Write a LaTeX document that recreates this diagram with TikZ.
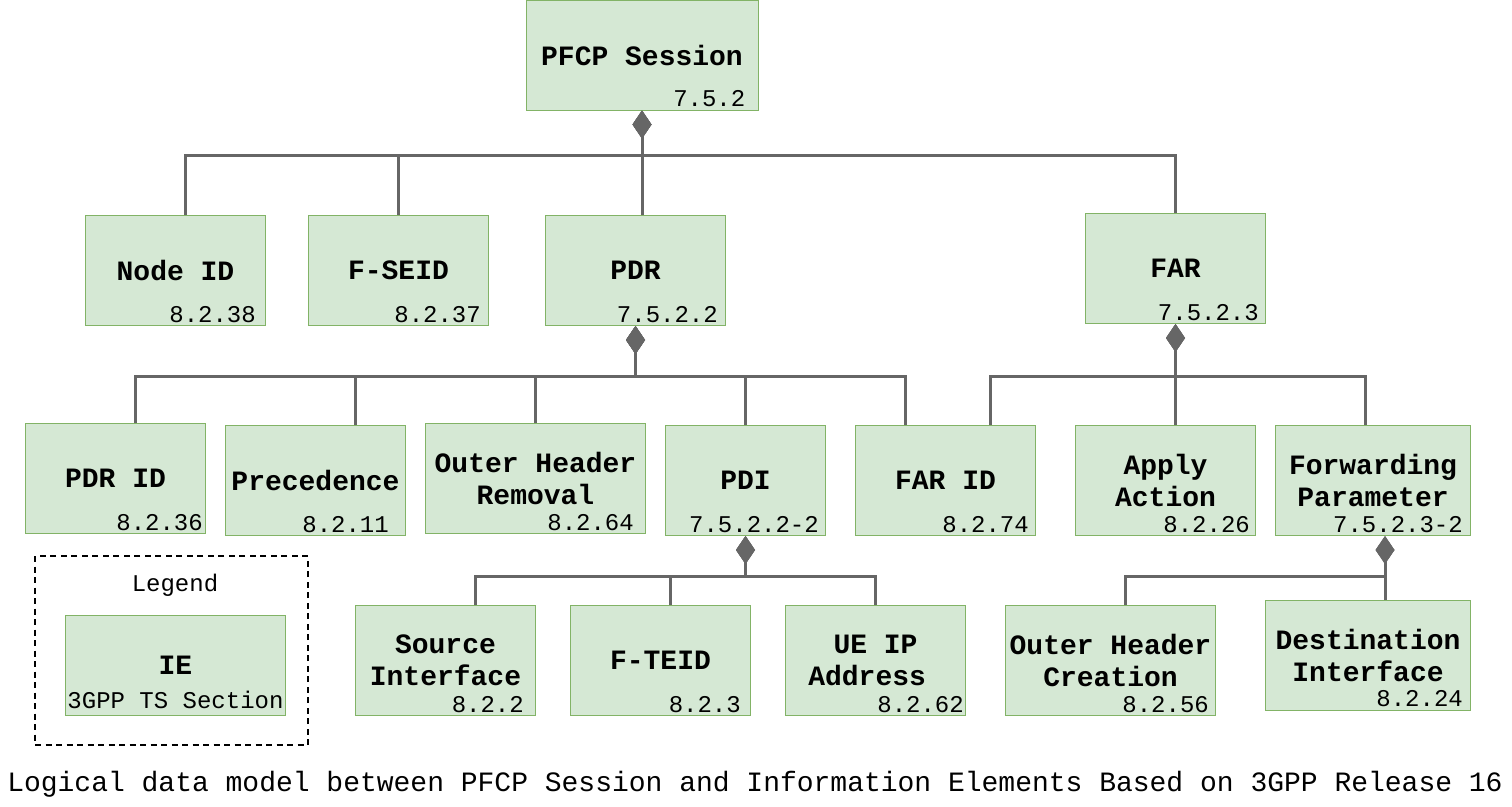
\documentclass[tikz,border=0pt]{standalone}
\usepackage{fontspec}
\setmainfont{Liberation Mono}
\usepackage{tikz}
\usetikzlibrary{arrows.meta}
\definecolor{iefill}{HTML}{D5E8D4}
\definecolor{iedraw}{HTML}{82B366}
\definecolor{linkgray}{HTML}{666666}

\begin{document}
\begin{tikzpicture}[x=1pt,y=-1pt]
    % `ie' is used for every information element box.
    % `secnum' is the 3GPP TS section number in the lower right corner.
    % `compose' is used for the connectors (diamond at the parent).
    \tikzstyle{ie} = [draw=iedraw,fill=iefill,line width=1pt,minimum width=180pt,minimum height=110pt,inner sep=0pt,align=center,font=\fontsize{28}{32.5}\selectfont\bfseries]
    \tikzstyle{secnum} = [anchor=base east,inner sep=0pt,font=\fontsize{24}{28}\selectfont]
    \tikzstyle{compose} = [draw=linkgray,line width=3pt,{Diamond[length=28pt,width=19pt]}-]
    \useasboundingbox (0,0) rectangle (1512,806);
    %
    % Top level.
    \node[ie,minimum width=232pt] (session) at (642,55) {PFCP Session};
    \node[secnum] at ([xshift=-13pt,yshift=4pt]session.south east) {7.5.2};
    %
    \node[ie] (nodeid) at (175.5,270.5) {Node ID};
    \node[secnum] at ([xshift=-10pt,yshift=4pt]nodeid.south east) {8.2.38};
    \node[ie] (fseid) at (398.5,270.5) {F-SEID};
    \node[secnum] at ([xshift=-8pt,yshift=4pt]fseid.south east) {8.2.37};
    \node[ie] (pdr) at (635.5,270.5) {PDR};
    \node[secnum] at ([xshift=-8pt,yshift=4pt]pdr.south east) {7.5.2.2};
    \node[ie] (far) at (1175.5,268.5) {FAR};
    \node[secnum] at ([xshift=-7pt,yshift=4pt]far.south east) {7.5.2.3};
    %
    % Second level.
    \node[ie] (pdrid) at (115.5,478.5) {PDR ID};
    \node[secnum] at ([xshift=-3pt,yshift=4pt]pdrid.south east) {8.2.36};
    \node[ie] (prec) at (315.5,480.5) {Precedence};
    \node[secnum] at ([xshift=-17pt,yshift=4pt]prec.south east) {8.2.11};
    \node[ie,minimum width=220pt] (ohr) at (535.5,478.5) {Outer Header\\Removal};
    \node[secnum] at ([xshift=-12pt,yshift=4pt]ohr.south east) {8.2.64};
    \node[ie,minimum width=160pt] (pdi) at (745.5,480.5) {PDI};
    \node[secnum] at ([xshift=-7pt,yshift=4pt]pdi.south east) {7.5.2.2-2};
    \node[ie] (farid) at (945.5,480.5) {FAR ID};
    \node[secnum] at ([xshift=-7pt,yshift=4pt]farid.south east) {8.2.74};
    \node[ie] (apply) at (1165.5,480.5) {Apply\\Action};
    \node[secnum] at ([xshift=-6pt,yshift=4pt]apply.south east) {8.2.26};
    \node[ie,minimum width=195pt] (fwd) at (1373,480.5) {Forwarding\\Parameter};
    \node[secnum] at ([xshift=-8pt,yshift=4pt]fwd.south east) {7.5.2.3-2};
    %
    % Third level.
    \node[ie] (srcif) at (445.5,660.5) {Source\\Interface};
    \node[secnum] at ([xshift=-12pt,yshift=4pt]srcif.south east) {8.2.2};
    \node[ie] (fteid) at (660.5,660.5) {F-TEID};
    \node[secnum] at ([xshift=-10pt,yshift=4pt]fteid.south east) {8.2.3};
    \node[ie] (ueip) at (875.5,660.5) {UE IP\\Address\phantom{x}};
    \node[secnum] at ([xshift=-2pt,yshift=4pt]ueip.south east) {8.2.62};
    \node[ie,minimum width=210pt] (ohc) at (1110.5,660.5) {Outer Header\\Creation};
    \node[secnum] at ([xshift=-7pt,yshift=4pt]ohc.south east) {8.2.56};
    \node[ie,minimum width=205pt] (dstif) at (1368,655.5) {Destination\\Interface};
    \node[secnum] at ([xshift=-8pt,yshift=5pt]dstif.south east) {8.2.24};
    %
    % Legend.
    \node[draw,dash pattern=on 6pt off 4.5pt,line width=2pt,minimum width=273pt,minimum height=189pt] (legend) at (171.5,650.5) {};
    \node[font=\fontsize{24}{28}\selectfont] (legendtitle) at (175,585) {Legend};
    \node[ie,minimum width=220pt,minimum height=100pt] (legendie) at (175.5,665.5) {IE};
    \node[anchor=base,inner sep=0pt,font=\fontsize{24}{28}\selectfont] at ([yshift=8pt]legendie.south) {3GPP TS Section};
    %
    % Caption.
    \node[font=\fontsize{28}{32}\selectfont] (caption) at (755,784) {Logical data model between PFCP Session and Information Elements Based on 3GPP Release 16};
    %
    % Draw connectors.
    \draw[compose] (session.south) -- ++(0,45) -| ([xshift=10pt]nodeid.north);
    \draw[compose] (session.south) -- ++(0,45) -| (fseid.north);
    \draw[compose] (session.south) -- ++(0,45) -| ([xshift=6.5pt]pdr.north);
    \draw[compose] (session.south) -- ++(0,45) -| (far.north);
    %
    \draw[compose] (pdr.south) -- ++(0,50) -| ([xshift=19.5pt]pdrid.north);
    \draw[compose] (pdr.south) -- ++(0,50) -| ([xshift=39.5pt]prec.north);
    \draw[compose] (pdr.south) -- ++(0,50) -| (ohr.north);
    \draw[compose] (pdr.south) -- ++(0,50) -| (pdi.north);
    \draw[compose] (pdr.south) -- ++(0,50) -| ([xshift=-40.5pt]farid.north);
    %
    \draw[compose] (far.south) -- ++(0,52) -| ([xshift=44.5pt]farid.north);
    \draw[compose] (far.south) -- ++(0,52) -| ([xshift=9.5pt]apply.north);
    \draw[compose] (far.south) -- ++(0,52) -| ([xshift=-8pt]fwd.north);
    %
    \draw[compose] (pdi.south) -- ++(0,40) -| ([xshift=29.5pt]srcif.north);
    \draw[compose] (pdi.south) -- ++(0,40) -| ([xshift=9.5pt]fteid.north);
    \draw[compose] (pdi.south) -- ++(0,40) -| (ueip.north);
    %
    \draw[compose] ([xshift=12pt]fwd.south) -- ++(0,40) -| ([xshift=14.5pt]ohc.north);
    \draw[compose] ([xshift=12pt]fwd.south) -- ++(0,40) -| ([xshift=17pt]dstif.north);
\end{tikzpicture}
\end{document}
